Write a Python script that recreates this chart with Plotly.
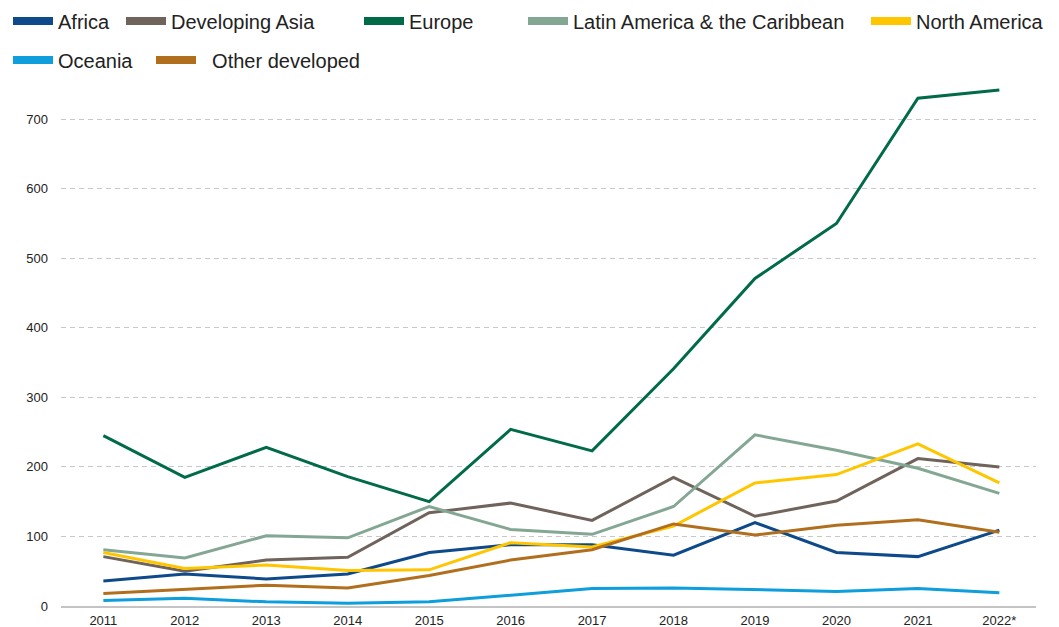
import plotly.graph_objects as go

# years on the x axis
years = ["2011", "2012", "2013", "2014", "2015", "2016",
         "2017", "2018", "2019", "2020", "2021", "2022*"]

# values, one list per region
africa = [36, 46, 39, 46, 77, 88, 88, 73, 120, 77, 71, 109]
dev_asia = [71, 50, 66, 70, 134, 148, 123, 185, 129, 151, 212, 200]
europe = [245, 185, 228, 186, 150, 254, 223, 341, 471, 550, 730, 742]
latam = [81, 69, 101, 98, 143, 110, 103, 143, 246, 224, 198, 162]
north_am = [77, 54, 59, 51, 52, 91, 85, 115, 177, 189, 233, 177]
oceania = [8, 11, 6, 4, 6, 15, 25, 26, 23, 21, 25, 19]
other_dev = [18, 24, 30, 26, 44, 66, 81, 118, 102, 116, 124, 106]

# name, values, colour, legend id, swatch left (px), legend row centre (px)
series = [
    ("Africa", africa, "#0e4a89", "legend", 8, 21),
    ("Developing Asia", dev_asia, "#6f635b", "legend2", 126, 21),
    ("Europe", europe, "#006b46", "legend3", 364, 21),
    ("Latin America & the Caribbean", latam, "#84a794", "legend4", 528, 21),
    ("North America", north_am, "#ffc600", "legend5", 871, 21),
    ("Oceania", oceania, "#0d9edb", "legend6", 8, 60),
    ("\u00a0\u00a0Other developed", other_dev, "#b16f1d", "legend7", 156, 60),
]

# the page body adds 8px at the top-left, so the figure is drawn 8px smaller
OFF = 8
W, H = 1059 - OFF, 627 - OFF
L, R, T, B = 61 - OFF, 23, 75 - OFF, 21

fig = go.Figure()
for name, vals, col, leg, px, py in series:
    fig.add_trace(go.Scatter(x=years, y=vals, mode="lines", name=name,
                             line=dict(color=col, width=3), showlegend=False))
    # thicker swatch for the legend only
    fig.add_trace(go.Scatter(x=[None], y=[None], mode="lines", name=name,
                             line=dict(color=col, width=8), legend=leg))

legends = {}
for name, vals, col, leg, px, py in series:
    legends[leg] = dict(
        xref="container", yref="container",
        x=(px - OFF - 5) / W, xanchor="left",
        y=1 - (py - OFF) / H, yanchor="middle",
        orientation="h", bgcolor="rgba(0,0,0,0)",
        font=dict(size=20, color="#222222", family="Liberation Sans, Arial"),
        itemwidth=40, tracegroupgap=0,
    )

fig.update_layout(
    width=W, height=H,
    margin=dict(l=L, r=R, t=T, b=B),
    plot_bgcolor="white", paper_bgcolor="white",
    font=dict(family="Liberation Sans, Arial", color="#222222", size=13),
    **legends,
)

fig.update_xaxes(
    type="category", range=[-0.52, 11.45],
    showgrid=False, showline=True, linecolor="#c4c4c4", linewidth=1.5,
    ticks="", tickfont=dict(size=13), ticklabelstandoff=2, automargin=False,
)
fig.update_yaxes(
    range=[0, 757], tickvals=[0, 100, 200, 300, 400, 500, 600, 700],
    showgrid=True, gridcolor="#c8c8c8", griddash="5px,4px", gridwidth=1,
    zeroline=True, zerolinecolor="#c4c4c4", zerolinewidth=1.5,
    ticks="", ticklabelstandoff=12, tickfont=dict(size=13), automargin=False,
)

fig.write_html("out.html")
